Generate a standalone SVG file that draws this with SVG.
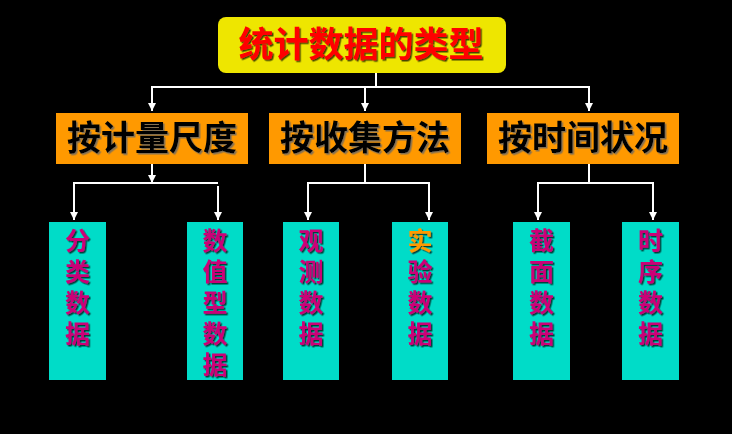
<svg xmlns="http://www.w3.org/2000/svg" width="732" height="434" viewBox="0 0 732 434">
<defs>
<marker id="arr" viewBox="0 0 10 10" refX="10" refY="5" markerWidth="4" markerHeight="4" markerUnits="strokeWidth" orient="auto">
<path d="M0,0 L10,5 L0,10 Z" fill="#ffffff"/>
</marker>
<filter id="sh" x="-20%" y="-20%" width="140%" height="140%">
<feDropShadow dx="1.5" dy="1.5" stdDeviation="0.3" flood-color="#000000" flood-opacity="0.7"/>
</filter>
<filter id="shg" x="-20%" y="-20%" width="140%" height="140%">
<feDropShadow dx="1.5" dy="1.5" stdDeviation="0.3" flood-color="#666666" flood-opacity="0.8"/>
</filter>
</defs>
<style>
text{font-family:"Noto Sans CJK SC","Noto Sans CJK TC",sans-serif;font-weight:700;text-anchor:middle}
.title{font-size:35px;fill:#ff0000}
.l2box{fill:#ff9900}
.l2{font-size:34px;fill:#000000}
.leaf{fill:#00dcc8}
.lt{font-size:25px;fill:#cc0077}
.ln{stroke:#ffffff;stroke-width:2;fill:none}
.la{stroke:#ffffff;stroke-width:2;fill:none;marker-end:url(#arr)}
</style>
<rect width="732" height="434" fill="#000000"/>
<g id="connectors">
<path class="ln" d="M376,73 V87 M151,87 H589"/>
<path class="la" d="M152,86 V111"/>
<path class="la" d="M365,86 V111"/>
<path class="la" d="M589,86 V111"/>
<path class="la" d="M152,164 V183"/>
<path class="ln" d="M73,183 H218"/>
<path class="la" d="M74,182 V220"/>
<path class="la" d="M218,186 V220"/>
<path class="ln" d="M365,164 V183 M307,183 H429"/>
<path class="la" d="M308,182 V220"/>
<path class="la" d="M429,182 V220"/>
<path class="ln" d="M589,164 V183 M538,183 H653"/>
<path class="la" d="M538,182 V220"/>
<path class="la" d="M653,182 V220"/>
</g>
<g id="title">
<rect x="218" y="17" width="288" height="56" rx="8" fill="#eee600"/>
<text class="title" x="361" y="57" filter="url(#sh)">统计数据的类型</text>
</g>
<g id="n-scale">
<rect class="l2box" x="56" y="113" width="192" height="51"/>
<text class="l2" x="152" y="150" filter="url(#shg)">按计量尺度</text>
</g>
<g id="n-method">
<rect class="l2box" x="269" y="113" width="192" height="51"/>
<text class="l2" x="365" y="150" filter="url(#shg)">按收集方法</text>
</g>
<g id="n-time">
<rect class="l2box" x="487" y="113" width="192" height="51"/>
<text class="l2" x="583" y="150" filter="url(#shg)">按时间状况</text>
</g>
<g id="leaf-categorical">
<rect class="leaf" x="49" y="222" width="57" height="158"/>
<g filter="url(#sh)">
<text class="lt" x="77.5" y="250">分</text>
<text class="lt" x="77.5" y="281">类</text>
<text class="lt" x="77.5" y="312">数</text>
<text class="lt" x="77.5" y="343">据</text>
</g>
</g>
<g id="leaf-numeric">
<rect class="leaf" x="187" y="222" width="56" height="158"/>
<g filter="url(#sh)">
<text class="lt" x="215" y="250">数</text>
<text class="lt" x="215" y="281">值</text>
<text class="lt" x="215" y="312">型</text>
<text class="lt" x="215" y="343">数</text>
<text class="lt" x="215" y="374">据</text>
</g>
</g>
<g id="leaf-observational">
<rect class="leaf" x="283" y="222" width="56" height="158"/>
<g filter="url(#sh)">
<text class="lt" x="311" y="250">观</text>
<text class="lt" x="311" y="281">测</text>
<text class="lt" x="311" y="312">数</text>
<text class="lt" x="311" y="343">据</text>
</g>
</g>
<g id="leaf-experimental">
<rect class="leaf" x="392" y="222" width="56" height="158"/>
<g filter="url(#sh)">
<text class="lt" x="420" y="250" style="fill:#ff9900">实</text>
<text class="lt" x="420" y="281">验</text>
<text class="lt" x="420" y="312">数</text>
<text class="lt" x="420" y="343">据</text>
</g>
</g>
<g id="leaf-cross-section">
<rect class="leaf" x="513" y="222" width="57" height="158"/>
<g filter="url(#sh)">
<text class="lt" x="541.5" y="250">截</text>
<text class="lt" x="541.5" y="281">面</text>
<text class="lt" x="541.5" y="312">数</text>
<text class="lt" x="541.5" y="343">据</text>
</g>
</g>
<g id="leaf-time-series">
<rect class="leaf" x="622" y="222" width="57" height="158"/>
<g filter="url(#sh)">
<text class="lt" x="650.5" y="250">时</text>
<text class="lt" x="650.5" y="281">序</text>
<text class="lt" x="650.5" y="312">数</text>
<text class="lt" x="650.5" y="343">据</text>
</g>
</g>
</svg>
